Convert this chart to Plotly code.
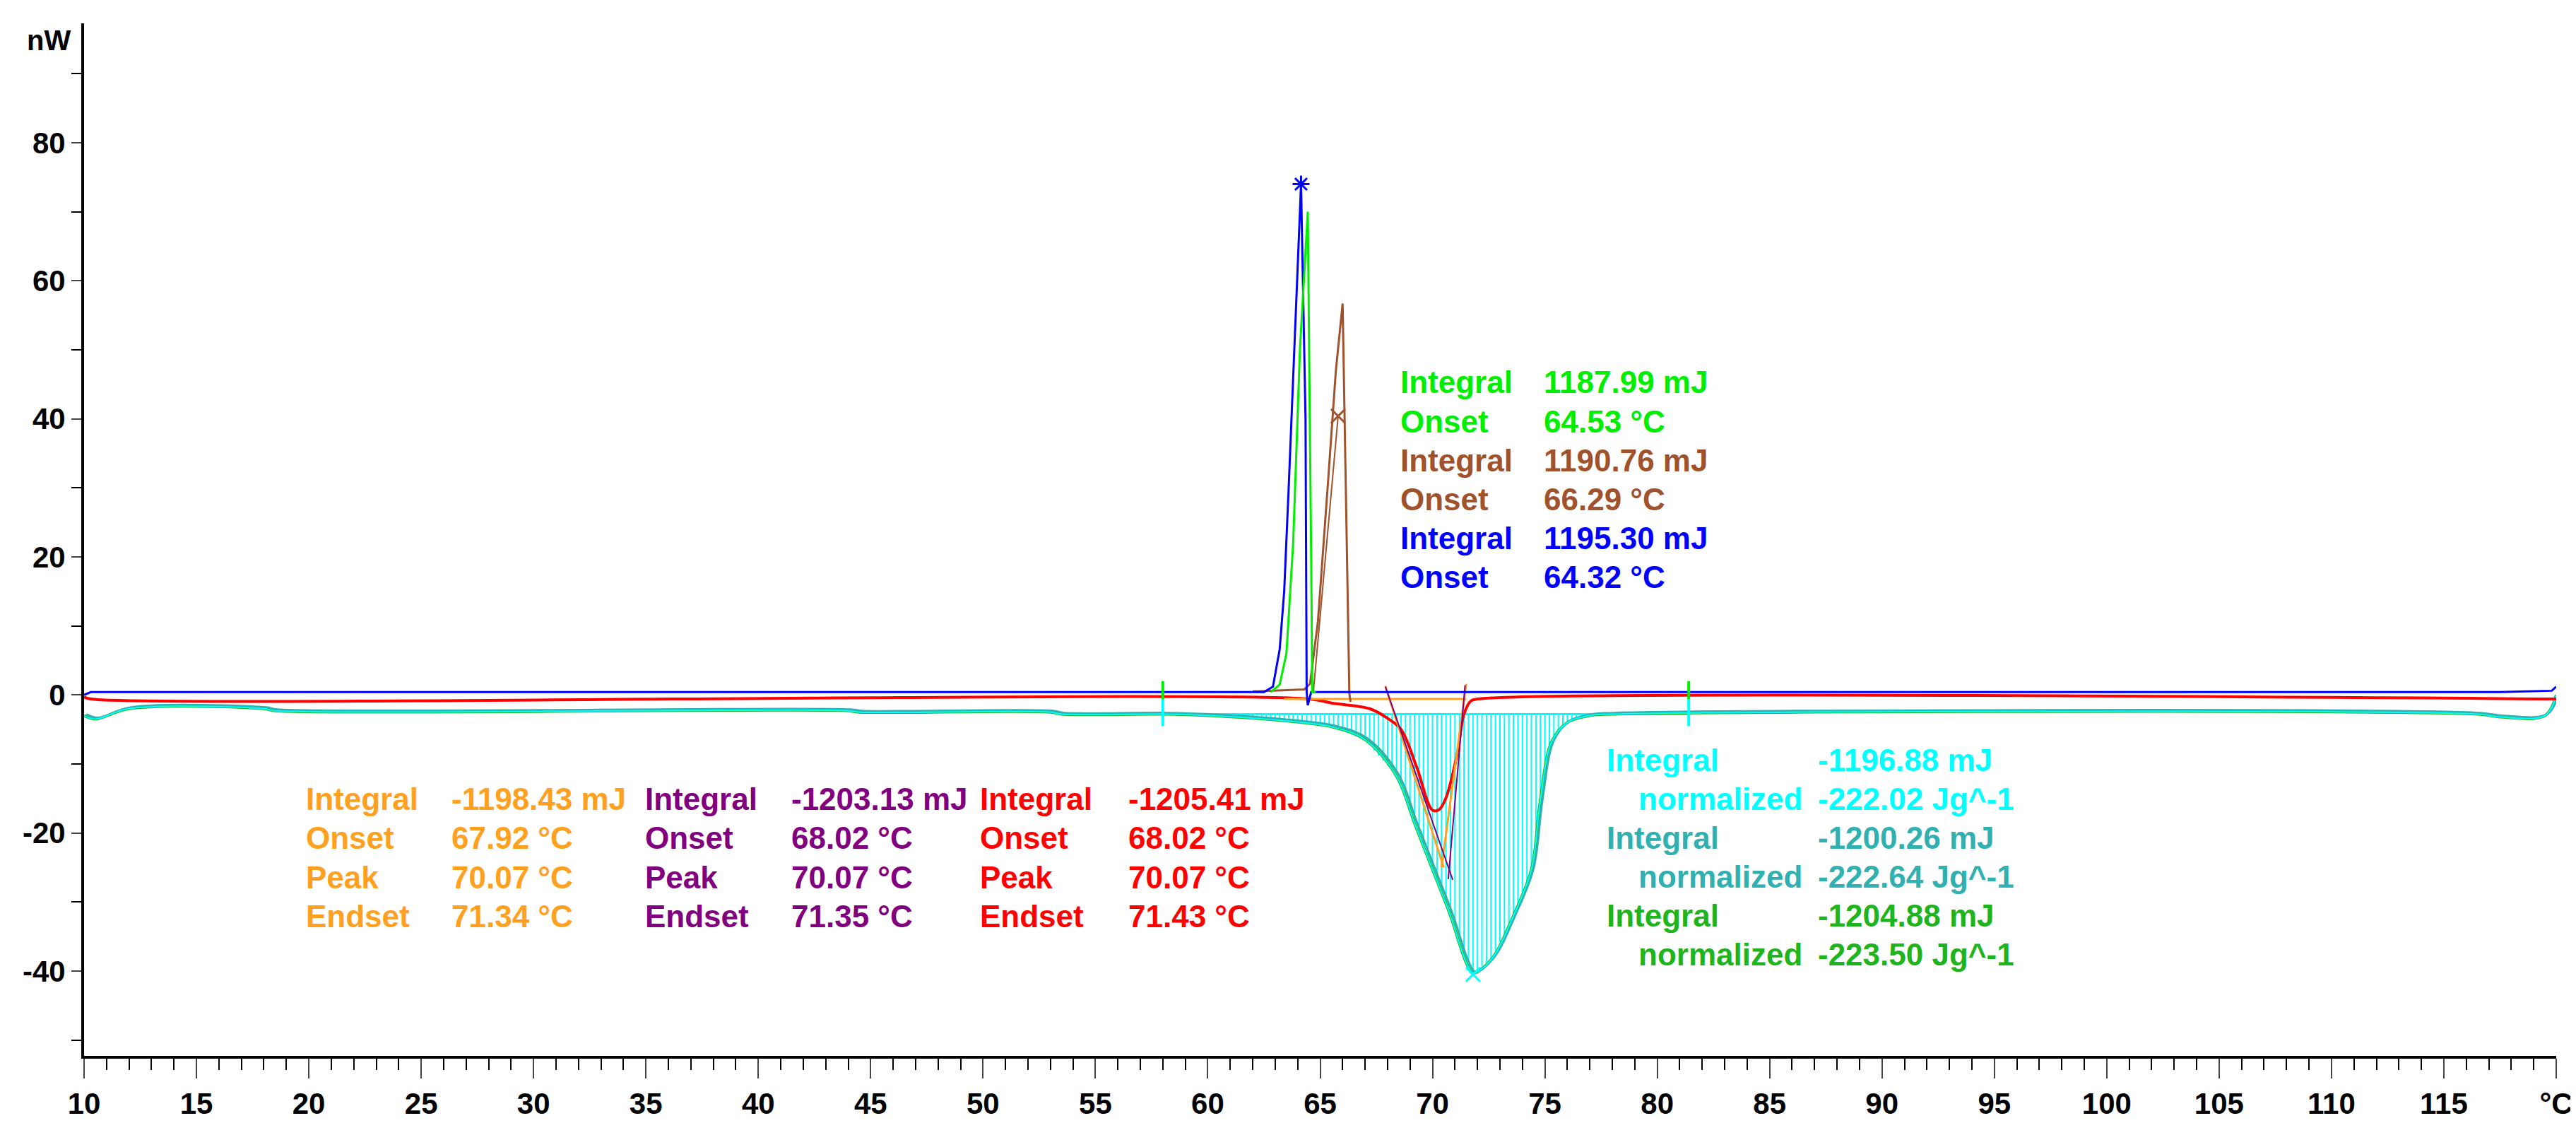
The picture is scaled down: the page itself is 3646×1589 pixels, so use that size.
import numpy as np
import plotly.graph_objects as go

# curve points (temperature degC, heat flow nW)
blue_x = [10, 10.3, 62.5, 62.9, 63.2, 63.4, 63.6, 63.8, 64.0, 64.15, 64.35, 64.4, 64.45, 64.6, 117.5, 119.8, 120]
blue_y = [0.0, 0.4, 0.4, 1.2, 6.6, 15.0, 30.0, 47.0, 62.0, 74.0, 40.0, 0.4, -1.5, 0.4, 0.4, 0.6, 1.2]

green_x = [62.8, 63.2, 63.5, 63.8, 64.1, 64.45, 64.6, 64.65, 64.8]
green_y = [0.4, 1.5, 6.0, 22.0, 50.0, 70.0, 20.0, 0.4, 0.4]

brown_x = [62.0, 64.3, 64.55, 64.9, 65.35, 65.7, 66.0, 66.15, 66.3, 66.35]
brown_y = [0.5, 0.8, 1.6, 10.6, 30.8, 47.0, 56.7, 30.0, 0.2, -1.0]
brown_tan_x = [64.7, 65.8, 66.0]
brown_tan_y = [0.5, 40.4, 41.0]

red_x = [10, 10.3, 64.5, 65.55, 67.2, 68.0, 68.6, 69.3, 70.0, 70.3, 70.6, 71.1, 71.4, 71.7, 72.0, 120]
red_y = [-0.3, -0.6, -0.6, -1.2, -2.0, -3.4, -5.0, -10.5, -16.7, -16.6, -14.9, -8.5, -2.8, -0.9, -0.6, -0.6]

orange_base_x = [63.4, 71.5]
orange_base_y = [-0.6, -0.6]
orange_tan1_x = [67.9, 70.5]
orange_tan1_y = [1.3, -25.0]
orange_tan2_x = [71.5, 70.4]
orange_tan2_y = [1.6, -25.0]
purple_tan1_x = [67.9, 70.9]
purple_tan1_y = [1.2, -26.8]
purple_tan2_x = [71.45, 70.7]
purple_tan2_y = [1.4, -26.7]

dsc_x = [10, 10.5, 12, 18, 18.5, 44, 44.5, 53, 53.5, 58, 60.0, 63.2, 65.6, 67.0, 68.4, 69.2, 70.0, 70.8, 71.5,
         71.8, 72.6, 73.6, 74.4, 74.8, 75.3, 76.0, 77.0, 78.0, 116.5, 117.5, 119.5, 120]
dsc_y = [-3.0, -3.5, -2.0, -2.0, -2.3, -2.3, -2.5, -2.5, -2.8, -2.8, -3.0, -3.7, -4.7, -6.5, -11.8, -18.6, -25.3, -32.0,
         -38.8, -40.3, -38.4, -32.0, -25.3, -15.2, -6.8, -4.0, -3.0, -2.8, -2.8, -3.2, -3.0, 0.0]
teal_shift = [0.1]

hatch_start = 58.0
hatch_end = 81.4
hatch_base = -2.8

labels_green = [("Integral", "1187.99 mJ"), ("Onset", "64.53 °C")]
labels_brown = [("Integral", "1190.76 mJ"), ("Onset", "66.29 °C")]
labels_blue = [("Integral", "1195.30 mJ"), ("Onset", "64.32 °C")]
labels_orange = [("Integral", "-1198.43 mJ"), ("Onset", "67.92 °C"), ("Peak", "70.07 °C"), ("Endset", "71.34 °C")]
labels_purple = [("Integral", "-1203.13 mJ"), ("Onset", "68.02 °C"), ("Peak", "70.07 °C"), ("Endset", "71.35 °C")]
labels_red = [("Integral", "-1205.41 mJ"), ("Onset", "68.02 °C"), ("Peak", "70.07 °C"), ("Endset", "71.43 °C")]
labels_cyan = [("Integral", "-1196.88 mJ"), ("normalized", "-222.02 Jg^-1")]
labels_teal = [("Integral", "-1200.26 mJ"), ("normalized", "-222.64 Jg^-1")]
labels_dgreen = [("Integral", "-1204.88 mJ"), ("normalized", "-223.50 Jg^-1")]

C_BLUE = "#0000ff"
C_GREEN = "#00ee00"
C_BROWN = "#a0522d"
C_RED = "#ff0000"
C_ORANGE = "#ffa020"
C_PURPLE = "#800080"
C_CYAN = "#00ffff"
C_TEAL = "#30b0b0"
C_DGREEN = "#1eb41e"

fig = go.Figure()


def line(x, y, color, width=3, shape="linear"):
    fig.add_trace(go.Scatter(x=x, y=y, mode="lines", line=dict(color=color, width=width, shape=shape),
                             showlegend=False, hoverinfo="skip"))


def mark(x, y, symbol, color):
    fig.add_trace(go.Scatter(x=[x], y=[y], mode="markers",
                             marker=dict(symbol=symbol, size=20, color=color, line=dict(width=3, color=color)),
                             showlegend=False, hoverinfo="skip"))


# hatch of the integrated area
hx = np.arange(hatch_start, hatch_end, 0.2)
hy = np.interp(hx, dsc_x, dsc_y)
vx, vy = [], []
for a, b in zip(hx, hy):
    vx += [a, a, None]
    vy += [hatch_base, b, None]
line(vx, vy, C_CYAN, 2)
line([hatch_start, hatch_end], [hatch_base, hatch_base], C_CYAN, 3)

line(dsc_x, dsc_y, C_DGREEN, 4, "spline")
line([v + teal_shift[0] for v in dsc_x], [v + 0.2 for v in dsc_y], C_TEAL, 3, "spline")
line(dsc_x, dsc_y, C_CYAN, 2, "spline")

line(red_x, red_y, C_RED, 4, "spline")
line(orange_base_x, orange_base_y, C_ORANGE, 3)
line(orange_tan1_x, orange_tan1_y, C_ORANGE, 3)
line(orange_tan2_x, orange_tan2_y, C_ORANGE, 3)
line(purple_tan1_x, purple_tan1_y, C_PURPLE, 2)
line(purple_tan2_x, purple_tan2_y, C_PURPLE, 2)

line(brown_x, brown_y, C_BROWN, 3)
line(brown_tan_x, brown_tan_y, C_BROWN, 2)
line(blue_x, blue_y, C_BLUE, 3)
line(green_x, green_y, C_GREEN, 3)

# peak markers
mark(64.15, 74.0, "asterisk-open", C_BLUE)
mark(65.8, 40.4, "x-thin-open", C_BROWN)
mark(71.8, -40.5, "x-thin-open", C_CYAN)
# integration limit marks
for xm in [hatch_start, hatch_end]:
    line([xm, xm], [2.0, -0.6], C_GREEN, 4)
    line([xm, xm], [-0.6, -4.5], C_CYAN, 4)

FONT = "Liberation Sans, Arial, sans-serif"
FS = 44


def text(x, y, t, color):
    fig.add_annotation(x=x, y=y, text="<b>%s</b>" % t, showarrow=False, xanchor="left",
                       yanchor="middle", font=dict(family=FONT, size=FS, color=color))


def block(rows, color, x_lab, x_val, y0, step=5.65):
    for i, (lab, val) in enumerate(rows):
        text(x_lab, y0 - i * step, lab, color)
        text(x_val, y0 - i * step, val, color)


block(labels_green, C_GREEN, 68.5, 74.9, 45.3)
block(labels_brown, C_BROWN, 68.5, 74.9, 45.3 - 2 * 5.65)
block(labels_blue, C_BLUE, 68.5, 74.9, 45.3 - 4 * 5.65)
block(labels_orange, C_ORANGE, 19.8, 26.3, -15.1)
block(labels_purple, C_PURPLE, 34.9, 41.4, -15.1)
block(labels_red, C_RED, 49.8, 56.4, -15.1)
for k, (rows, col) in enumerate([(labels_cyan, C_CYAN), (labels_teal, C_TEAL), (labels_dgreen, C_DGREEN)]):
    y0 = -9.4 - k * 2 * 5.65
    text(77.7, y0, rows[0][0], col)
    text(87.1, y0, rows[0][1], col)
    text(79.1, y0 - 5.65, rows[1][0], col)
    text(87.1, y0 - 5.65, rows[1][1], col)

fig.add_annotation(x=-0.005, y=1.0, xref="paper", yref="paper", text="<b>nW</b>", showarrow=False,
                   xanchor="right", yanchor="top", font=dict(family=FONT, size=40, color="black"))

xt = list(range(10, 121, 5))
xl = ["<b>%s</b>" % v for v in xt[:-1]] + ["<b>°C</b>"]
yt = list(range(-40, 81, 20))

fig.update_layout(
    width=3646, height=1589, paper_bgcolor="white", plot_bgcolor="white",
    margin=dict(l=111, r=31, t=25, b=86),
    xaxis=dict(range=[10, 120], tickvals=xt, ticktext=xl, ticks="outside", ticklen=28, tickwidth=2,
               showline=True, linecolor="black", linewidth=4, showgrid=False, zeroline=False,
               tickfont=dict(family="Liberation Sans Narrow, " + FONT, size=42, color="black"),
               minor=dict(dtick=1, ticks="outside", ticklen=16, tickwidth=2, tickcolor="black", showgrid=False)),
    yaxis=dict(range=[-52.3, 97.3], tickvals=yt, ticktext=["<b>%d</b>" % v for v in yt], ticks="outside",
               ticklen=14, tickwidth=2, showline=True, linecolor="black", linewidth=4, showgrid=False,
               zeroline=False, tickfont=dict(family=FONT, size=42, color="black"),
               minor=dict(dtick=10, ticks="outside", ticklen=14, tickwidth=2, tickcolor="black", showgrid=False)),
)

fig.write_html("out.html")
